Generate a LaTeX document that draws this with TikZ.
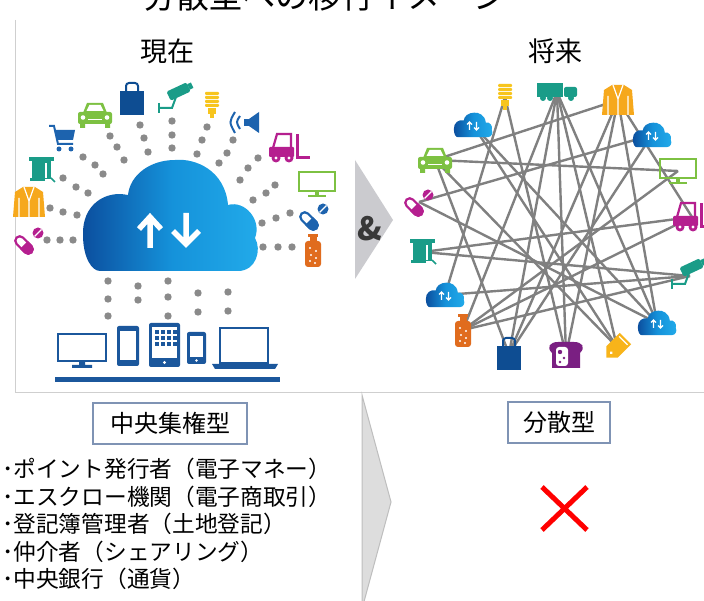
\documentclass[tikz,border=0pt]{standalone}
\usepackage{fontspec}
\setmainfont{Noto Sans CJK JP}

\definecolor{iconblue}{HTML}{1D63AE}
\definecolor{devblue}{HTML}{1B579C}
\definecolor{bagnavy}{HTML}{0E4D92}
\definecolor{icongreen}{HTML}{7DC142}
\definecolor{iconteal}{HTML}{1A9C88}
\definecolor{iconyellow}{HTML}{F7C51E}
\definecolor{iconorange}{HTML}{F6A81C}
\definecolor{tagyellow}{HTML}{F8B41A}
\definecolor{bottleorange}{HTML}{E06C1E}
\definecolor{iconmagenta}{HTML}{B51F8F}
\definecolor{iconpurple}{HTML}{7A1F82}
\definecolor{dotgray}{HTML}{8A8A8A}
\definecolor{linkgray}{HTML}{808080}
\definecolor{clouddark}{HTML}{0B4E9E}
\definecolor{cloudmid}{HTML}{1592DA}
\definecolor{cloudlight}{HTML}{22ABEA}
\definecolor{framegray}{HTML}{CFCFCF}
\definecolor{boxedge}{HTML}{7F93B4}
\definecolor{chevgray}{HTML}{CBCBCF}
\definecolor{chevlight}{HTML}{DDDDDD}
\definecolor{chevedge}{HTML}{BEBEBE}

\tikzset{
  graydot/.style={fill=dotgray},
  link/.style={linkgray, line width=2.4pt},
  typebox/.style={draw=boxedge, line width=1.2pt, fill=white, inner sep=0pt,
    minimum height=41pt, font=\fontsize{24}{24}\selectfont},
  listline/.style={anchor=base west, inner sep=0pt, font=\fontsize{22.7}{27}\selectfont},
  % icons, drawn round their centre (y grows downwards)
  cloud body/.pic={
    \shade[left color=clouddark, right color=cloudlight, middle color=cloudmid]
      (-70,55) -- (68,55) .. controls (86,55) and (92,34) .. (85,22)
      .. controls (92,4) and (75,-16) .. (58,-11)
      .. controls (55,-46) and (25,-58) .. (5,-56)
      .. controls (-20,-56) and (-40,-41) .. (-42,-21)
      .. controls (-65,-26) and (-88,-11) .. (-87,19)
      .. controls (-87,42) and (-78,55) .. (-70,55) -- cycle;
  },
  mini cloud/.pic={
    \pic[scale=0.22] {cloud body};
    \draw[white, line width=1.3pt] (-3.5,5) -- (-3.5,-3) (-6,-0.5) -- (-3.5,-3) -- (-1,-0.5);
    \draw[white, line width=1.3pt] (3.5,-3) -- (3.5,5) (1,2.5) -- (3.5,5) -- (6,2.5);
  },
  car icon/.pic={
    \fill[icongreen, rounded corners=2pt] (-17,-3) rectangle (17,9);
    \fill[icongreen] (-12,-2) -- (-8,-12) -- (8,-12) -- (12,-2) -- cycle;
    \fill[white] (-8.5,-4) -- (-5.5,-10) -- (5.5,-10) -- (8.5,-4) -- cycle;
    \fill[icongreen] (-15,8) rectangle (-10,13) (10,8) rectangle (15,13);
    \fill[white] (-12,2.5) circle (2.3) (12,2.5) circle (2.3);
    \fill[white] (-7,4) rectangle (7,5.5);
  },
  bag icon/.pic={
    \draw[bagnavy, line width=2pt, rounded corners=3pt] (-6,-7) -- (-6,-16) -- (6,-16) -- (6,-7);
    \fill[bagnavy] (-12,-8) rectangle (12,16);
  },
  camera icon/.pic={
    \begin{scope}[rotate=25]
      \fill[iconteal, rounded corners=1.5pt] (-6,-12) rectangle (16,-2);
      \fill[iconteal] (16,-10) rectangle (20,-4);
    \end{scope}
    \draw[iconteal, line width=2pt] (-1,-3) -- (-5,8) -- (-17,8);
    \draw[iconteal, line width=2pt] (-18,3) -- (-18,13);
  },
  bulb icon/.pic={
    \foreach \yy in {-13,-9,-5,-1}
      \fill[iconyellow, rounded corners=1pt] (-7,\yy) rectangle (7,\yy+3);
    \fill[iconyellow] (-4,3) rectangle (4,9);
    \fill[iconyellow] (-2,9) rectangle (2,13);
  },
  speaker icon/.pic={
    \fill[iconblue] (-1,-3) rectangle (4,4);
    \fill[iconblue] (4,-3) -- (14,-10) -- (14,11) -- (4,4) -- cycle;
    \draw[iconblue, line width=2pt] (-5,-6) .. controls (-9,0) .. (-5,7);
    \draw[iconblue, line width=2pt] (-10,-10) .. controls (-16,0) .. (-10,11);
  },
  lift icon/.pic={
    \draw[iconmagenta, line width=2.2pt] (-15,0) -- (-11,-14) -- (3,-14) -- (3,0);
    \fill[iconmagenta, rounded corners=1pt] (-19,-1) rectangle (6,9);
    \fill[iconmagenta] (8,-14) rectangle (11,11);
    \fill[iconmagenta] (11,8) rectangle (22,11);
    \fill[iconmagenta] (-12,10) circle (4.5) (1,10) circle (4.5);
    \fill[white] (-12,10) circle (1.7) (1,10) circle (1.7);
  },
  tv icon/.pic={
    \draw[icongreen, line width=2.5pt] (-18,-12) rectangle (18,7);
    \fill[icongreen] (-2,8) rectangle (2,11);
    \fill[icongreen] (-9,11) rectangle (9,13.5);
  },
  pics/pill icon/.style={code={
    \begin{scope}[shift={(-5,5)}, rotate=-45]
      \draw[#1, line width=2.2pt] (-6,-4.5) -- (6,-4.5) arc (-90:90:4.5) -- (-6,4.5) arc (90:270:4.5) -- cycle;
      \fill[#1] (0,-5.6) -- (6,-5.6) arc (-90:90:5.6) -- (0,5.6) -- cycle;
    \end{scope}
    \fill[#1] (9,-7) circle (5.5);
    \draw[white, line width=1.2pt] (5.5,-3.5) -- (12.5,-10.5);
  }},
  bottle icon/.pic={
    \fill[bottleorange] (-5,-16) rectangle (5,-12.5);
    \fill[bottleorange] (-3.5,-12.5) rectangle (3.5,-8);
    \fill[bottleorange, rounded corners=3pt] (-8,-9) rectangle (8,17);
    \foreach \p in {(-3,-2),(3,1),(-2,5),(3,8),(-3,11),(2,13)}
      \fill[white] \p circle (1.2);
  },
  kiosk icon/.pic={
    \fill[iconteal] (-13,-13) rectangle (12,-9);
    \fill[iconteal] (-10,-9) rectangle (9,9);
    \fill[white] (3,-7) rectangle (5,8);
    \fill[iconteal] (-12,8) rectangle (3,11);
    \draw[iconteal, line width=1.5pt] (9,8) -- (13,12);
  },
  jacket icon/.pic={
    \fill[iconorange] (-6,-15) -- (6,-15) -- (14,-10) -- (16,15) -- (-16,15) -- (-14,-10) -- cycle;
    \draw[white, line width=1.2pt] (-5,-15) -- (0,-1) -- (5,-15) (0,-1) -- (0,15)
      (-10,-4) -- (-10,15) (10,-4) -- (10,15);
  },
  cart icon/.pic={
    \draw[iconblue, line width=2pt] (-13,-12) -- (-8,-12) -- (-4,6) -- (11,6);
    \fill[iconblue] (-7,-8) -- (13,-8) -- (11,2) -- (-5,2) -- cycle;
    \fill[iconblue] (-3,11) circle (2.5) (9,11) circle (2.5);
  },
  truck icon/.pic={
    \fill[iconteal] (-20,-9) rectangle (6,5);
    \fill[iconteal, rounded corners=2pt] (7,-5) rectangle (20,5);
    \fill[iconteal] (-14,6) circle (3) (-7,6) circle (3) (14,6) circle (3);
  },
  bread icon/.pic={
    \fill[iconpurple] (-14,13) -- (-14,-2) .. controls (-20,-8) and (-16,-13) .. (-8,-13)
      -- (8,-13) .. controls (16,-13) and (20,-8) .. (14,-2) -- (14,13) -- cycle;
    \fill[white, rounded corners=3pt] (-10,-8) rectangle (2,11);
    \fill[iconpurple] (-6,-3) circle (2.2) (-2,3) circle (1.4) (-6,7) circle (1.4);
  },
  tag icon/.pic={
    \begin{scope}[rotate=45]
      \fill[tagyellow] (-15,0) -- (-7,-8) -- (12,-8) -- (12,8) -- (-7,8) -- cycle;
      \fill[white] (-8,0) circle (1.6);
      \draw[white, line width=1.2pt] (9,-6) -- (9,6);
    \end{scope}
  },
}

\begin{document}
\begin{tikzpicture}[x=1pt, y=-1pt]
    \useasboundingbox (0,0) rectangle (704,601);
    \clip (0,0) rectangle (704,601);
    \fill[white] (0,0) rectangle (704,601);

    % Frame of the upper picture
    \draw[framegray, line width=1pt] (15,20) -- (15,393) -- (704,393);

    % Headings
    \node[font=\fontsize{33}{33}\selectfont, anchor=base] (title) at (325,8.7) {分散型への移行イメージ};
    \node[font=\fontsize{27}{27}\selectfont] (now) at (167,51) {現在};
    \node[font=\fontsize{27}{27}\selectfont] (future) at (555,51) {将来};

    % Dotted links round the cloud
    \foreach \p in {(83,157),(95,165),(103,174), (110,136),(117,147),(124,160),
        (140,125),(144,138),(148,152), (172,121),(172,135),(172,148),
        (207,127),(202,140),(197,154), (233,140),(227,153),(219,163),
        (258,158),(248,168),(240,180), (275,185),(266,193),(253,200),
        (290,213),(276,218),(262,223), (63,178),(76,187),(88,193),
        (50,208),(63,212),(77,215), (47,240),(60,240),(73,240),
        (263,247),(278,247),(292,247), (108,281),(108,299),(108,316),
        (138,286),(138,300), (168,281),(168,297),(168,316),
        (198,293),(198,312), (228,292),(228,311)}
      \fill[graydot] \p circle (3.7);

    % Central cloud
    \pic at (170,216) {cloud body};
    \draw[white, line width=5.5pt] (150,248) -- (150,218) (139,229) -- (150,217) -- (161,229);
    \draw[white, line width=5.5pt] (186,213) -- (186,244) (173,231) -- (186,244) -- (199,231);

    % Devices under the cloud
    \draw[devblue, line width=2.6pt] (58,334) rectangle (106,361);
    \fill[devblue] (79,362) rectangle (85,366) (72,365) rectangle (92,368);
    \fill[devblue, rounded corners=2pt] (117,326) rectangle (139,366);
    \fill[white] (120,331) rectangle (136,360);
    \fill[devblue, rounded corners=2pt] (149,323) rectangle (180,367);
    \fill[white] (152,327) rectangle (177,358);
    \foreach \cx in {155,161,167,173}
      \foreach \cy in {330,336,342}
        \fill[devblue] (\cx,\cy) rectangle (\cx+4,\cy+4);
    \fill[white] (164.5,362.5) circle (1.6);
    \fill[devblue, rounded corners=2pt] (187,332) rectangle (206,364);
    \fill[white] (190,336) rectangle (203,357);
    \fill[white] (196.5,360.5) circle (1.4);
    \draw[devblue, line width=2.6pt] (220,328) rectangle (268,363);
    \fill[devblue] (212,364) -- (278,364) -- (275,369) -- (215,369) -- cycle;
    \fill[devblue] (55,377) rectangle (280,382);

    % Things round the cloud
    \pic at (62,138) {cart icon};
    \pic at (95,115) {car icon};
    \pic at (132,99) {bag icon};
    \pic at (177,100) {camera icon};
    \pic at (212,105) {bulb icon};
    \pic at (245,122) {speaker icon};
    \pic at (288,148) {lift icon};
    \pic at (317,184) {tv icon};
    \pic at (314,216) {pill icon=iconblue};
    \pic at (313,250) {bottle icon};
    \pic at (42,170) {kiosk icon};
    \pic at (29,202) {jacket icon};
    \pic at (29,240) {pill icon=iconmagenta};

    % Chevron between the two pictures
    \fill[chevgray] (355,160) -- (355,279) -- (393,220) -- cycle;
    \node[font=\fontsize{32}{32}\selectfont\bfseries, text=black!78] (amp) at (370,229) {\&};

    % Peers of the network
    \coordinate (bulbR) at (505,97);
    \coordinate (truckR) at (557,92);
    \coordinate (jacketR) at (618,100);
    \coordinate (cloudA) at (473,125);
    \coordinate (cloudB) at (652,135);
    \coordinate (carR) at (435,160);
    \coordinate (tvR) at (678,171);
    \coordinate (pillsR) at (419,202);
    \coordinate (liftR) at (692,217);
    \coordinate (kioskR) at (423,252);
    \coordinate (camR) at (690,276);
    \coordinate (cloudC) at (445,295);
    \coordinate (cloudD) at (657,323);
    \coordinate (bottleR) at (463,330);
    \coordinate (bagR) at (509,354);
    \coordinate (breadR) at (566,355);
    \coordinate (tagR) at (617,347);

    % Links between peers
    \draw[link] (carR) -- (tvR);
    \draw[link] (carR) -- (jacketR);
    \draw[link] (carR) -- (bagR);
    \draw[link] (carR) -- (tagR);
    \draw[link] (pillsR) -- (cloudB);
    \draw[link] (pillsR) -- (cloudD);
    \draw[link] (kioskR) -- (liftR);
    \draw[link] (kioskR) -- (camR);
    \draw[link] (cloudC) -- (bulbR);
    \draw[link] (cloudC) -- (camR);
    \draw[link] (bottleR) -- (tvR);
    \draw[link] (bottleR) -- (truckR);
    \draw[link] (bottleR) -- (liftR);
    \draw[link] (bottleR) -- (camR);
    \draw[link] (bagR) -- (truckR);
    \draw[link] (bagR) -- (jacketR);
    \draw[link] (bagR) -- (cloudB);
    \draw[link] (breadR) -- (truckR);
    \draw[link] (breadR) -- (jacketR);
    \draw[link] (breadR) -- (bulbR);
    \draw[link] (tagR) -- (truckR);
    \draw[link] (tagR) -- (cloudA);
    \draw[link] (cloudD) -- (cloudA);
    \draw[link] (cloudD) -- (jacketR);
    \draw[link] (cloudD) -- (truckR);
    \draw[link] (jacketR) -- (liftR);

    \pic at (bulbR) {bulb icon};
    \pic at (truckR) {truck icon};
    \pic at (jacketR) {jacket icon};
    \pic at (cloudA) {mini cloud};
    \pic at (cloudB) {mini cloud};
    \pic at (carR) {car icon};
    \pic at (tvR) {tv icon};
    \pic at (pillsR) {pill icon=iconmagenta};
    \pic at (liftR) {lift icon};
    \pic at (kioskR) {kiosk icon};
    \pic at (camR) {camera icon};
    \pic at (cloudC) {mini cloud};
    \pic at (cloudD) {mini cloud};
    \pic at (bottleR) {bottle icon};
    \pic at (bagR) {bag icon};
    \pic at (breadR) {bread icon};
    \pic at (tagR) {tag icon};

    % Lower part: centralised vs. distributed
    \filldraw[fill=chevlight, draw=chevedge, line width=1pt] (362,395) -- (391,502) -- (362,609) -- cycle;
    \node[typebox, minimum width=154pt] (central) at (170,423.5) {中央集権型};
    \node[typebox, minimum width=102pt] (distrib) at (559,422.5) {分散型};

    \node[listline] (item1) at (2,477.5) {･ポイント発行者（電子マネー）};
    \node[listline] (item2) at (2,505) {･エスクロー機関（電子商取引）};
    \node[listline] (item3) at (2,532.5) {･登記簿管理者（土地登記）};
    \node[listline] (item4) at (2,560) {･仲介者（シェアリング）};
    \node[listline] (item5) at (2,587.5) {･中央銀行（通貨）};

    % Red cross
    \draw[red, line width=5pt] (542,487) -- (587,530) (587,487) -- (542,530);
\end{tikzpicture}
\end{document}
